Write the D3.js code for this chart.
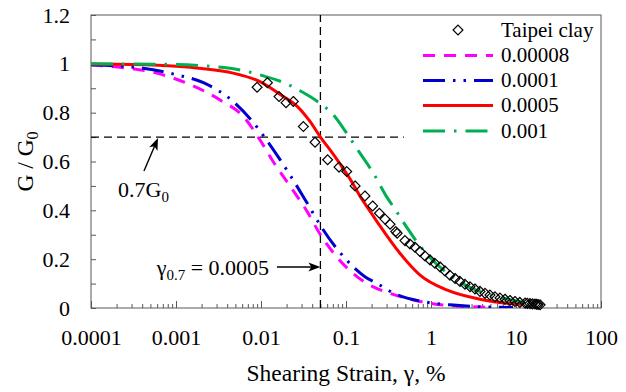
<!DOCTYPE html>
<html><head><meta charset="utf-8">
<script src="https://cdn.jsdelivr.net/npm/d3@7"></script>
<style>
body{margin:0;background:#fff}
svg{display:block}
text{font-family:"Liberation Serif","DejaVu Serif","Times New Roman",serif;fill:#000}
</style>
</head><body>
<svg id="chart" width="626" height="392"></svg>
<script>
// ---------- data ----------
const xMajorTicks = [0.0001, 0.001, 0.01, 0.1, 1, 10, 100];
const xTickLabels = ["0.0001", "0.001", "0.01", "0.1", "1", "10", "100"];
const yTickValues = [0, 0.1, 0.2, 0.3, 0.4, 0.5, 0.6, 0.7, 0.8, 0.9, 1.0, 1.1, 1.2];
const yTickLabels = ["0", "", "0.2", "", "0.4", "", "0.6", "", "0.8", "", "1", "", "1.2"];
const seriesNames = ["Taipei clay", "0.00008", "0.0001", "0.0005", "0.001"];

// Taipei clay test data  [strain %, G/G0]
const taipeiClay = [
  [0.0090,0.904],[0.0119,0.923],[0.0163,0.866],[0.0197,0.841],[0.024,0.846],
  [0.0315,0.743],[0.0432,0.679],[0.0608,0.607],[0.0828,0.577],[0.102,0.559],
  [0.128,0.500],[0.167,0.459],[0.206,0.418],[0.247,0.388],[0.288,0.364],
  [0.330,0.343],[0.385,0.313],[0.400,0.306],[0.494,0.276],[0.566,0.262],
  [0.648,0.249],[0.743,0.231],[0.850,0.213],[0.973,0.197],[1.11,0.183],
  [1.28,0.168],[1.46,0.152],[1.67,0.134],[1.92,0.121],[2.19,0.109],
  [2.51,0.097],[2.88,0.087],[3.29,0.078],[3.77,0.068],[4.32,0.060],
  [4.94,0.053],[5.66,0.046],[6.48,0.041],[7.42,0.036],[8.5,0.031],
  [9.73,0.027],[11.1,0.023],[12.8,0.020],[13.6,0.019],[14.6,0.018],
  [15.6,0.017],[16.7,0.016],[17.5,0.015],[18.2,0.014],[19.2,0.013]
];
// model curves, gamma_0.7 = 0.00008
const curve00008 = [
  [0.0001,0.995],[0.00026,0.983],[0.00059,0.962],[0.00133,0.921],[0.0033,0.852],
  [0.0062,0.784],[0.0097,0.689],[0.014,0.598],[0.0219,0.500],[0.0345,0.398],
  [0.05,0.300],[0.0776,0.210],[0.175,0.101],[0.33,0.060],[0.68,0.030],
  [1.4,0.012],[4.9,0.003]
];
// gamma_0.7 = 0.0001
const curve0001 = [
  [0.0001,0.996],[0.00026,0.989],[0.00041,0.982],[0.00102,0.955],[0.0021,0.923],
  [0.0047,0.846],[0.0081,0.760],[0.014,0.648],[0.0219,0.545],[0.036,0.422],
  [0.053,0.324],[0.097,0.204],[0.167,0.128],[0.23,0.101],[0.394,0.055],
  [0.81,0.026],[1.67,0.013],[3.15,0.006],[9.2,0.002]
];
// gamma_0.7 = 0.0005
const curve0005 = [
  [0.0001,0.999],[0.0003,0.997],[0.001,0.990],[0.002,0.981],[0.0047,0.962],
  [0.0097,0.927],[0.0183,0.866],[0.0263,0.828],[0.0377,0.764],[0.05,0.700],
  [0.07,0.632],[0.085,0.590],[0.111,0.530],[0.15,0.452],[0.2,0.387],
  [0.251,0.336],[0.431,0.224],[0.743,0.135],[1.53,0.074],[3.77,0.036],
  [9.3,0.017],[12,0.014]
];
// gamma_0.7 = 0.001
const curve001 = [
  [0.0001,1.0],[0.00078,0.998],[0.0043,0.982],[0.0097,0.955],[0.02,0.918],
  [0.0288,0.890],[0.0377,0.866],[0.05,0.837],[0.071,0.791],[0.1,0.720],
  [0.146,0.634],[0.21,0.552],[0.30,0.456],[0.394,0.395],[0.517,0.331],
  [0.81,0.238],[2.0,0.115],[7.1,0.040],[20,0.015]
];
// reference lines / annotations (data coordinates)
const refStrain = 0.05, refG = 0.7, refHLineEnd = 0.48;

// ---------- layout ----------
const svg = d3.select("#chart");
const L = 91, R = 601, T = 15, B = 308;
const x = d3.scaleLog().domain([0.0001, 100]).range([L, R]);
const y = d3.scaleLinear().domain([0, 1.2]).range([B, T]);
const axisColor = "#595959";
const FONT = '"Liberation Serif","DejaVu Serif","Times New Roman",serif';

svg.append("defs").append("clipPath").attr("id","clip")
  .append("rect").attr("x",L).attr("y",T).attr("width",R-L).attr("height",B-T);

// axes
const minorX = [];
xMajorTicks.slice(0,-1).forEach(d => { for (let k=2;k<=9;k++) minorX.push(d*k); });

const gxMinor = svg.append("g").attr("transform",`translate(0,${B})`)
  .call(d3.axisBottom(x).tickValues(minorX).tickSizeInner(-4).tickSizeOuter(0).tickFormat(""));
const gx = svg.append("g").attr("transform",`translate(0,${B})`)
  .call(d3.axisBottom(x).tickValues(xMajorTicks).tickSizeInner(-7).tickSizeOuter(0).tickPadding(21)
    .tickFormat((d,i)=>xTickLabels[i]));
const gy = svg.append("g").attr("transform",`translate(${L},0)`)
  .call(d3.axisLeft(y).tickValues(yTickValues).tickSizeInner(-5).tickSizeOuter(0).tickPadding(21)
    .tickFormat((d,i)=>yTickLabels[i]));
[gxMinor,gx,gy].forEach(g=>{
  g.attr("font-family",FONT).attr("font-size",22);
  g.select(".domain").remove();
  g.selectAll(".tick line").attr("stroke",axisColor).attr("stroke-width",1);
  g.selectAll(".tick text").attr("font-family",FONT).attr("font-size",22).attr("fill","#000");
});

svg.append("rect").attr("x",L).attr("y",T).attr("width",R-L).attr("height",B-T)
  .attr("fill","none").attr("stroke",axisColor).attr("stroke-width",1);

// reference dashed lines
svg.append("line").attr("x1",x(refStrain)).attr("x2",x(refStrain)).attr("y1",y(0)).attr("y2",y(1.2))
  .attr("stroke","#000").attr("stroke-width",1.3).attr("stroke-dasharray","8,5");
svg.append("line").attr("x1",x(0.0001)).attr("x2",x(refHLineEnd)).attr("y1",y(refG)).attr("y2",y(refG))
  .attr("stroke","#000").attr("stroke-width",1.3).attr("stroke-dasharray","8,5");

// curves
const line = d3.line().x(d=>x(d[0])).y(d=>y(d[1])).curve(d3.curveMonotoneX);
const styles = [
  {data:curve00008, color:"#FF00FF", dash:"12,9"},
  {data:curve0001,  color:"#0000CC", dash:"22,8,2.5,8,2.5,8"},
  {data:curve0005,  color:"#FF0000", dash:null},
  {data:curve001,   color:"#00B050", dash:"22,9,2.5,9"}
];
const gc = svg.append("g").attr("clip-path","url(#clip)");
styles.forEach(s=>{
  gc.append("path").datum(s.data).attr("d",line).attr("fill","none")
    .attr("stroke",s.color).attr("stroke-width",3).attr("stroke-dasharray",s.dash);
});

// markers
const diamond = d3.symbol().type(d3.symbolDiamond2).size(62);
svg.append("g").selectAll("path").data(taipeiClay).join("path")
  .attr("d",diamond).attr("transform",d=>`translate(${x(d[0])},${y(d[1])})`)
  .attr("fill","none").attr("stroke","#000").attr("stroke-width",1.2);

// legend
const lg = svg.append("g").attr("font-family",FONT);
const rowY = [30, 55.5, 80.5, 105.5, 131];
lg.append("path").attr("d",diamond).attr("transform",`translate(458,${rowY[0]})`)
  .attr("fill","none").attr("stroke","#000").attr("stroke-width",1.2);
styles.forEach((s,i)=>{
  lg.append("line").attr("x1",423).attr("x2",493).attr("y1",rowY[i+1]).attr("y2",rowY[i+1])
    .attr("stroke",s.color).attr("stroke-width",3).attr("stroke-dasharray",s.dash);
});
seriesNames.forEach((n,i)=>{
  lg.append("text").attr("x",501).attr("y",rowY[i]).attr("dy","0.33em")
    .attr("font-family",FONT).attr("font-size",21).text(n);
});

// axis titles
svg.append("text").attr("x",(L+R)/2).attr("y",381).attr("text-anchor","middle")
  .attr("font-family",FONT).attr("font-size",23.5).text("Shearing Strain, γ, %");
const yt = svg.append("text").attr("transform",`translate(33,${(T+B)/2}) rotate(-90)`)
  .attr("text-anchor","middle").attr("font-family",FONT).attr("font-size",23.5);
yt.append("tspan").text("G / G");
yt.append("tspan").attr("dy",5).attr("font-size",16).text("0");

// annotations
const arrowHead = (x2,y2,ang)=>{
  const len=12, w=4.5;
  const c=Math.cos(ang), s=Math.sin(ang);
  const p=[[x2,y2],[x2-len*c + w*s, y2-len*s - w*c],[x2-len*c*0.75, y2-len*s*0.75],[x2-len*c - w*s, y2-len*s + w*c]];
  svg.append("path").attr("d","M"+p.map(q=>q.join(",")).join("L")+"Z").attr("fill","#000");
};
{
  const x1=x(0.00042), y1=y(0.561), x2=x(0.000614), y2=y(refG)+1;
  const ang=Math.atan2(y2-y1,x2-x1);
  svg.append("line").attr("x1",x1).attr("y1",y1).attr("x2",x2-8*Math.cos(ang)).attr("y2",y2-8*Math.sin(ang))
    .attr("stroke","#000").attr("stroke-width",1.4);
  arrowHead(x2,y2,ang);
}
{
  const x1=x(0.0154), y1=y(0.168), x2=x(refStrain), y2=y(0.168);
  svg.append("line").attr("x1",x1).attr("y1",y1).attr("x2",x2-8).attr("y2",y2)
    .attr("stroke","#000").attr("stroke-width",1.4);
  arrowHead(x2,y2,0);
}
const t1 = svg.append("text").attr("x",x(0.000208)).attr("y",y(0.455)).attr("font-family",FONT).attr("font-size",22);
t1.append("tspan").text("0.7G");
t1.append("tspan").attr("dy",5).attr("font-size",15).text("0");
const t2 = svg.append("text").attr("x",x(0.000593)).attr("y",y(0.135)).attr("font-family",FONT).attr("font-size",22);
t2.append("tspan").text("γ");
t2.append("tspan").attr("dy",5).attr("font-size",15).text("0.7");
t2.append("tspan").attr("dy",-5).text(" = 0.0005");
</script>
</body></html>
